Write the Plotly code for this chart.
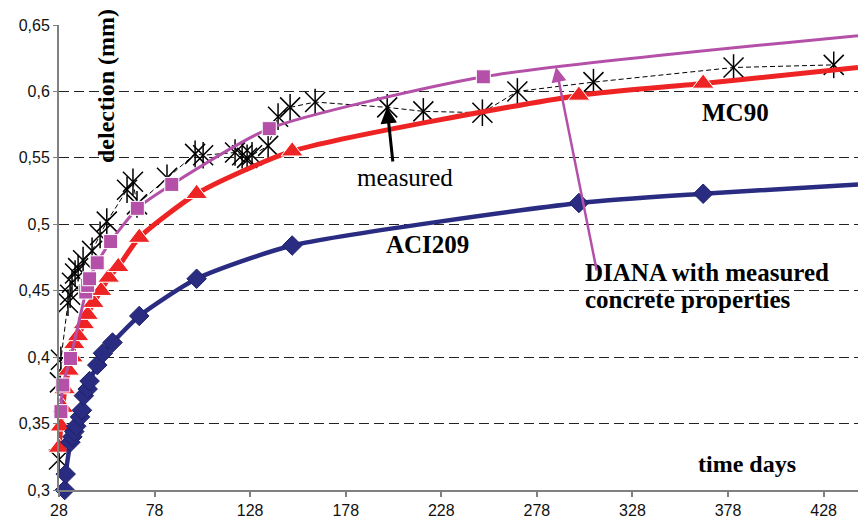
import plotly.graph_objects as go

# ---- data ----
meas_days = [28, 28.5, 29, 32.7, 33.8, 34.8, 36.4, 38, 40.6, 45.3, 49.5, 53, 63.6, 66.7, 68.8, 84.5,
             99.2, 103.4, 120.1, 123.8, 126.4, 129, 137.4, 142.6, 148.9, 162, 199.7, 218.6, 249.5,
             267.8, 307.6, 380.9, 433.3]
meas_vals = [0.323, 0.381, 0.398, 0.441, 0.447, 0.456, 0.463, 0.467, 0.473, 0.480, 0.492, 0.502,
             0.526, 0.532, 0.515, 0.535, 0.553, 0.552, 0.554, 0.552, 0.550, 0.552, 0.559, 0.581,
             0.588, 0.592, 0.588, 0.585, 0.584, 0.600, 0.607, 0.618, 0.620]

aci_days = [31, 31.5, 34, 35, 36, 37, 39, 40, 41, 43, 44, 48, 51, 56, 70, 100, 150, 300, 365, 446]
aci_vals = [0.300, 0.312, 0.336, 0.340, 0.344, 0.348, 0.355, 0.360, 0.371, 0.376, 0.382, 0.394,
            0.403, 0.411, 0.431, 0.459, 0.484, 0.516, 0.523, 0.530]

mc_days = [28, 29, 30, 31, 33, 35, 36, 38, 41, 43, 46, 50, 54, 59, 70, 100, 150, 300, 365, 446]
mc_vals = [0.332, 0.348, 0.362, 0.376, 0.390, 0.400, 0.410, 0.416, 0.425, 0.432, 0.441, 0.450,
           0.460, 0.468, 0.490, 0.523, 0.555, 0.597, 0.606, 0.618]

diana_days = [29, 30, 34, 42, 43, 44, 48, 55, 69, 87, 138, 250, 446]
diana_vals = [0.359, 0.379, 0.399, 0.449, 0.454, 0.459, 0.471, 0.487, 0.512, 0.530, 0.572, 0.611, 0.642]

x_ticks = [28, 78, 128, 178, 228, 278, 328, 378, 428]
y_ticks = [0.3, 0.35, 0.4, 0.45, 0.5, 0.55, 0.6, 0.65]
y_tick_labels = ["0,3", "0,35", "0,4", "0,45", "0,5", "0,55", "0,6", "0,65"]

NAVY = "#2A2C82"
RED = "#EE2424"
PINK = "#B450A8"


def sizes(n, s):
    # last point is only the end of the curve at the chart edge: no marker
    return [s] * (n - 1) + [0]


fig = go.Figure()

# measured (dashed thin line with star markers made of X + vertical bar)
fig.add_trace(go.Scatter(
    x=meas_days, y=meas_vals, mode="lines+markers",
    line=dict(color="black", width=1, dash="5px,3px"),
    marker=dict(symbol="x-thin-open", size=20, color="black", opacity=1,
                line=dict(color="black", width=1.5)),
    cliponaxis=False, showlegend=False))
fig.add_trace(go.Scatter(
    x=meas_days, y=meas_vals, mode="markers",
    marker=dict(symbol="line-ns-open", size=19, color="black", opacity=1,
                line=dict(color="black", width=1.5)),
    cliponaxis=False, showlegend=False))

fig.add_trace(go.Scatter(
    x=mc_days, y=mc_vals, mode="lines+markers",
    line=dict(color=RED, width=5, shape="spline", smoothing=0.6),
    marker=dict(symbol="triangle-up", size=sizes(len(mc_days), 19), color=RED, opacity=1),
    cliponaxis=False, showlegend=False))

fig.add_trace(go.Scatter(
    x=diana_days, y=diana_vals, mode="lines+markers",
    line=dict(color=PINK, width=3, shape="spline", smoothing=0.6),
    marker=dict(symbol="square", size=sizes(len(diana_days), 14), color=PINK, opacity=1),
    cliponaxis=False, showlegend=False))

fig.add_trace(go.Scatter(
    x=aci_days, y=aci_vals, mode="lines+markers",
    line=dict(color=NAVY, width=4.5, shape="spline", smoothing=0.6),
    marker=dict(symbol="diamond", size=sizes(len(aci_days), 15), color=NAVY, opacity=1,
                line=dict(color="#1E2068", width=1)),
    cliponaxis=False, showlegend=False))

L, R, T, B = 59, 0, 25, 36
W, H = 858, 526
pw, ph = W - L - R, H - T - B


def px(xp):
    return (xp - L) / pw


def py(yp):
    return (H - B - yp) / ph


serif = "Liberation Serif, Times New Roman, serif"


def label(text, xp, yp, size=25, xanchor="center", angle=0):
    return dict(text=text, x=px(xp), y=py(yp), xref="paper", yref="paper",
                xanchor=xanchor, yanchor="middle", textangle=angle, showarrow=False,
                font=dict(family=serif, size=size, color="black"))


ann = [
    label("<b>delection (mm)</b>", 106, 86, size=24, angle=-90),
    label("measured", 405, 177),
    label("<b>ACI209</b>", 427, 244),
    label("<b>MC90</b>", 735, 113),
    label("<b>DIANA with measured</b>", 583, 272, xanchor="left"),
    label("<b>concrete properties</b>", 583, 300, xanchor="left"),
    label("<b>time days</b>", 747, 464, size=24),
]
# arrows
ann.append(dict(text="", x=px(387), y=py(107), xref="paper", yref="paper",
                ax=6, ay=56, showarrow=True, arrowhead=2, arrowsize=1.1, arrowwidth=3,
                arrowcolor="black", standoff=0))
ann.append(dict(text="", x=px(556), y=py(67), xref="paper", yref="paper",
                ax=41, ay=205, showarrow=True, arrowhead=2, arrowsize=1.2, arrowwidth=2.5,
                arrowcolor=PINK, standoff=0))

tickfont = dict(family="Liberation Sans Narrow, Arial Narrow, Liberation Sans, Arial", size=16,
                color="#111111")

fig.update_layout(
    width=W, height=H,
    margin=dict(l=L, r=R, t=T, b=B),
    paper_bgcolor="white", plot_bgcolor="white",
    annotations=ann,
    xaxis=dict(range=[28, 446], tickvals=x_ticks, showgrid=False, zeroline=False,
               showline=True, linecolor="#808080", linewidth=2,
               ticks="outside", ticklen=5, tickcolor="#808080", tickwidth=1.5,
               tickfont=tickfont),
    yaxis=dict(range=[0.3, 0.65], tickvals=y_ticks, ticktext=y_tick_labels,
               showgrid=True, gridcolor="#222222", gridwidth=1, griddash="10px,5px",
               zeroline=False, showline=True, linecolor="#808080", linewidth=2,
               ticks="outside", ticklen=4, tickcolor="#808080", tickfont=tickfont),
)

fig.write_html("out.html")
